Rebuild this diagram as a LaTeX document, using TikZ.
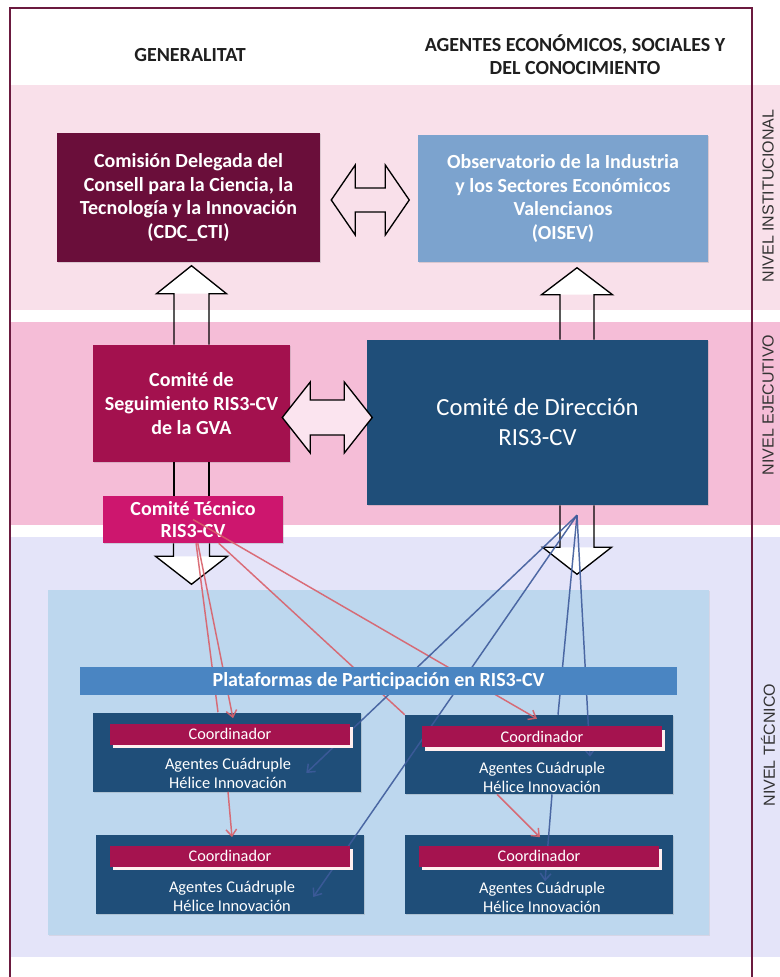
\documentclass[tikz,border=0pt]{standalone}
\usepackage{fontspec}
\setmainfont{Carlito}
\newfontfamily\lvlfont{Liberation Sans}
\usetikzlibrary{calc,arrows.meta,shadows}
\definecolor{framecol}{HTML}{6B1A3F}
\definecolor{bandinst}{HTML}{F9E0EA}
\definecolor{bandejec}{HTML}{F5BDD7}
\definecolor{bandtec}{HTML}{E4E4F9}
\definecolor{cdccol}{HTML}{6A0E3A}
\definecolor{oisevcol}{HTML}{7CA3CE}
\definecolor{segcol}{HTML}{A3114E}
\definecolor{teccol}{HTML}{CD166E}
\definecolor{navy}{HTML}{1F4E79}
\definecolor{platarea}{HTML}{BDD7EE}
\definecolor{platcol}{HTML}{4A85C2}
\definecolor{coordcol}{HTML}{A5134F}
\definecolor{redln}{HTML}{D9606A}
\definecolor{blueln}{HTML}{3E5B9B}
\definecolor{dblpink}{HTML}{FBE4EF}

\tikzset{
  box/.style={inner sep=2pt, align=center, text=white,
    font=\bfseries\fontsize{15}{17.75}\selectfont,
    drop shadow={shadow xshift=1pt,shadow yshift=-1pt,opacity=0.25}},
  headtxt/.style={align=center, text=black!88, font=\bfseries\fontsize{15}{17.25}\selectfont},
  lvl/.style={rotate=90, text=black!80, font=\lvlfont\fontsize{12}{14}\selectfont},
  agent/.style={fill=navy, minimum width=201pt, minimum height=59.25pt, inner sep=0pt,
    drop shadow={shadow xshift=1pt,shadow yshift=-1pt,opacity=0.25}},
  coordbar/.style={fill=coordcol, text=white, minimum width=180pt, minimum height=15.75pt,
    inner sep=0pt, font=\fontsize{12.2}{13}\selectfont,
    drop shadow={shadow xshift=2pt,shadow yshift=-2.5pt,fill=pink!25!white,opacity=1}},
  agtext/.style={align=center, text=white, font=\fontsize{12.3}{14.25}\selectfont},
  platbar/.style={fill=platcol, text=white, minimum width=447.75pt, minimum height=21pt,
    inner sep=0pt, font=\bfseries\fontsize{15}{16}\selectfont},
  blk/.style={draw=black, line width=1pt, line join=miter},
  redarr/.style={draw=redln, line width=1.1pt, opacity=0.9},
  bluearr/.style={draw=blueln, line width=1.1pt, opacity=0.9},
  barbhead/.style={-{Straight Barb[length=5pt,width=8pt]}}
}

\begin{document}
\begin{tikzpicture}[x=0.75pt,y=-0.75pt]
\useasboundingbox (0,0) rectangle (780,977);

% bandas de nivel
\fill[bandinst] (10,85) rectangle (780,310);
\fill[bandejec] (10,322) rectangle (780,525);
\fill[bandtec] (10,537) rectangle (780,957);
\draw[framecol, line width=1.5pt] (10,977) -- (10,8) -- (752,8) -- (752,977);

% cabeceras
\node[headtxt] (gen) at (190,55) {GENERALITAT};
\node[headtxt] (agen) at (575,55) {AGENTES ECONÓMICOS, SOCIALES Y\\DEL CONOCIMIENTO};

\node[lvl] (linst) at (768,196) {NIVEL INSTITUCIONAL};
\node[lvl] (lejec) at (768,405) {NIVEL EJECUTIVO};
\node[lvl] (ltec) at (768,745) {NIVEL TÉCNICO};

% nivel institucional
\node[box, fill=cdccol, minimum width=197.25pt, minimum height=96.75pt] (cdc) at (188.5,197.5)
  {Comisión Delegada del\\Consell para la Ciencia, la\\Tecnología y la Innovación\\(CDC\_CTI)};
\node[box, fill=oisevcol, minimum width=217.5pt, minimum height=95.25pt] (oisev) at (563,198.5)
  {Observatorio de la Industria\\y los Sectores Económicos\\Valencianos\\(OISEV)};
\draw[blk] ($(cdc.east)+(11,2.5)$) -- ++(24,-35) -- ++(0,23) -- ++(30,0) -- ++(0,-23)
  -- ++(24,35) -- ++(-24,35) -- ++(0,-23) -- ++(-30,0) -- ++(0,23) -- cycle;

% nivel ejecutivo
\node[box, fill=segcol, minimum width=147.75pt, minimum height=87.75pt] (seg) at (191.5,403.5)
  {Comité de\\Seguimiento RIS3-CV\\de la GVA};
\node[box, fill=navy, minimum width=255.75pt, minimum height=123.75pt,
  font=\fontsize{18.5}{22.5}\selectfont] (dir) at (537.5,422.5) {Comité de Dirección\\RIS3-CV};
\node[box, fill=teccol, minimum width=135pt, minimum height=35.25pt,
  font=\bfseries\fontsize{15}{16.5}\selectfont] (tec) at (193,519.5) {Comité Técnico\\RIS3-CV};
\draw[blk, fill=dblpink] ($(seg.east)+(-8,14)$) -- ++(28,-35.5) -- ++(0,18) -- ++(34,0) -- ++(0,-18)
  -- ++(28,35.5) -- ++(-28,35.5) -- ++(0,-18) -- ++(-34,0) -- ++(0,18) -- cycle;

% flechas hacia arriba
\fill[white] ($(seg.north)+(-35,-51)$) -- ++(35,-28) -- ++(35,28) -- cycle;
\draw[blk] ($(seg.north)+(-17.5,0)$) -- ++(0,-51) -- ++(-17.5,0) -- ++(35,-28) -- ++(35,28)
  -- ++(-17.5,0) -- ++(0,51);
\fill[white] ($(dir.north)+(4,-45)$) -- ++(35.5,-27) -- ++(35.5,27) -- cycle;
\draw[blk] ($(dir.north)+(22.5,0)$) -- ++(0,-45) -- ++(-18.5,0) -- ++(35.5,-27) -- ++(35.5,27)
  -- ++(-18.5,0) -- ++(0,45);

% flechas hacia abajo
\draw[blk] ($(seg.south)+(-17.5,0)$) -- ++(0,34);
\draw[blk] ($(seg.south)+(17.5,0)$) -- ++(0,34);
\fill[white] ($(tec.south)+(-37.5,13)$) -- ++(36,28) -- ++(36,-28) -- cycle;
\draw[blk] ($(tec.south)+(-19.5,0)$) -- ++(0,13) -- ++(-18,0) -- ++(36,28) -- ++(36,-28)
  -- ++(-18,0) -- ++(0,-13);
\fill[white] ($(dir.south)+(5,42)$) -- ++(34.5,27) -- ++(34.5,-27) -- cycle;
\draw[blk] ($(dir.south)+(22.5,0)$) -- ++(0,42) -- ++(-17.5,0) -- ++(34.5,27) -- ++(34.5,-27)
  -- ++(-17.5,0) -- ++(0,-42);

% nivel tecnico
\fill[platarea, drop shadow={shadow xshift=1pt,shadow yshift=-1pt,opacity=0.15}] (48,590) rectangle (709,935);

\node[agent] (tl) at (227,752) {};
\node[agent] (tr) at (539,754.5) {};
\node[agent] (bl) at (230,874) {};
\node[agent] (br) at (539,874) {};

% conexiones del comite tecnico
\draw[redarr] (tec) -- ($(tl.north)+(-9,0)$);
\draw[redarr, barbhead] (tec) -- ($(tl.north)+(6,6)$);
\draw[redarr, barbhead] (tec.center) -- ($(tr.north)+(-2,4)$);
\draw[redarr] (tec) -- (tr.north west);
\draw[redarr, barbhead] ($(tl.south)+(1,0)$) -- ($(bl.north)+(2,3)$);
\draw[redarr, barbhead] ($(tr.south)+(-42,0)$) -- ($(br.north)+(1,3)$);

% conexiones del comite de direccion
\coordinate (hub) at ($(dir.south)+(39.5,10)$);
\draw[bluearr, barbhead] (hub) -- ($(tl.east)+(-55,21)$);
\draw[bluearr, barbhead] (hub) -- ($(bl.east)+(-51,23)$);
\draw[bluearr] (hub) -- ($(tr.north)+(19,0)$);
\draw[bluearr, barbhead] (hub) -- ($(tr.north)+(51,42)$);
\draw[bluearr, barbhead] ($(tr.south)+(13,0)$) -- ($(br.north)+(6,47)$);

\node[platbar] (pbar) at (378.5,681) {Plataformas de Participación en RIS3-CV};

% coordinadores y agentes
\node[coordbar] (tlc) at ($(tl.north)+(3,22)$) {Coordinador};
\node[coordbar] (trc) at ($(tr.north)+(3,22)$) {Coordinador};
\node[coordbar] (blc) at ($(bl.north)+(0,22)$) {Coordinador};
\node[coordbar] (brc) at ($(br.north)+(0,22)$) {Coordinador};
\node[agtext] (tlt) at ($(tl.north)+(1,61)$) {Agentes Cuádruple\\Hélice Innovación};
\node[agtext] (trt) at ($(tr.north)+(3,63)$) {Agentes Cuádruple\\Hélice Innovación};
\node[agtext] (blt) at ($(bl.north)+(2,62)$) {Agentes Cuádruple\\Hélice Innovación};
\node[agtext] (brt) at ($(br.north)+(3,63)$) {Agentes Cuádruple\\Hélice Innovación};

\end{tikzpicture}
\end{document}
